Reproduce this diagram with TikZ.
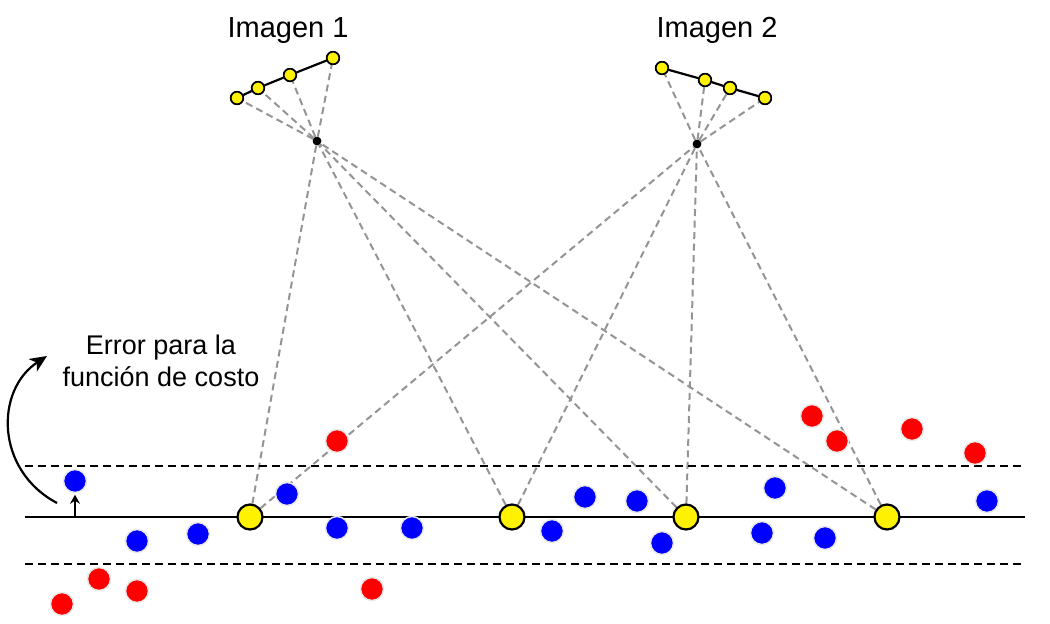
\documentclass[tikz,border=0pt]{standalone}
\usepackage{fontspec}
\setmainfont{Liberation Sans}
\usetikzlibrary{arrows.meta}
\begin{document}
\begin{tikzpicture}[x=1pt,y=-1pt,
  bdot/.style={circle, fill=blue, draw=black!9, line width=1.5pt, minimum size=23pt, inner sep=0pt},
  rdot/.style={circle, fill=red, draw=black!9, line width=1.5pt, minimum size=23pt, inner sep=0pt},
  gdot/.style={circle, fill=yellow, draw=black, line width=2.2pt, minimum size=25pt, inner sep=0pt},
  cdot/.style={circle, fill=yellow, draw=black, line width=1.6pt, minimum size=12.5pt, inner sep=0pt},
  ctr/.style={circle, fill=black, minimum size=8.5pt, inner sep=0pt},
  ray/.style={draw=black!42, line width=2pt, dash pattern=on 7pt off 4.5pt},
  guide/.style={draw=black, line width=2.4pt, dash pattern=on 8pt off 5pt},
  lbl/.style={font=\fontsize{27}{32}\selectfont, inner sep=0pt, anchor=base, align=center},
  ttl/.style={font=\fontsize{29}{34}\selectfont, inner sep=0pt, anchor=base}
]
\useasboundingbox (0,0) rectangle (1050,624);

% cameras
\node[cdot] (p11) at (237,98) {};
\node[cdot] (p12) at (258,88) {};
\node[cdot] (p13) at (290,75) {};
\node[cdot] (p14) at (333,58) {};
\node[ctr] (c1) at (317,141) {};
\node[cdot] (p21) at (662,68) {};
\node[cdot] (p22) at (705,80) {};
\node[cdot] (p23) at (730,88) {};
\node[cdot] (p24) at (765,98) {};
\node[ctr] (c2) at (697,144) {};

% ground points (positions)
\coordinate (g1c) at (250,517);
\coordinate (g2c) at (512,517);
\coordinate (g3c) at (686,517);
\coordinate (g4c) at (887,517);
\node[gdot, fill=none, draw=none] (g1) at (g1c) {};
\node[gdot, fill=none, draw=none] (g2) at (g2c) {};
\node[gdot, fill=none, draw=none] (g3) at (g3c) {};
\node[gdot, fill=none, draw=none] (g4) at (g4c) {};

% rays
\draw[ray] (g1) -- (c1) -- (p14);
\draw[ray] (g2) -- (c1) -- (p13);
\draw[ray] (g3) -- (c1) -- (p12);
\draw[ray] (g4) -- (c1) -- (p11);
\draw[ray] (g1) -- (c2) -- (p24);
\draw[ray] (g2) -- (c2) -- (p23);
\draw[ray] (g3) -- (c2) -- (p22);
\draw[ray] (g4) -- (c2) -- (p21);

% camera image lines
\draw[line width=2.2pt] (p11) -- (p12) -- (p13) -- (p14);
\draw[line width=2.2pt] (p21) -- (p22) -- (p23) -- (p24);
\node[cdot] at (p11) {};
\node[cdot] at (p12) {};
\node[cdot] at (p13) {};
\node[cdot] at (p14) {};
\node[cdot] at (p21) {};
\node[cdot] at (p22) {};
\node[cdot] at (p23) {};
\node[cdot] at (p24) {};
\node[ctr] at (c1) {};
\node[ctr] at (c2) {};

% labels
\node[ttl] (t1) at (288,37) {Imagen 1};
\node[ttl] (t2) at (717,37) {Imagen 2};
\node[lbl] (err) at (161,386) {Error para la\\función de costo};

% reference lines
\coordinate (la) at (25,466); \coordinate (lb) at (1025,466);
\coordinate (ma) at (25,517); \coordinate (mb) at (1025,517);
\coordinate (na) at (25,564); \coordinate (nb) at (1025,564);
\draw[guide] (la) -- (lb);
\draw[guide] (na) -- (nb);
\draw[line width=2.5pt] (ma) -- (mb);

% blue points
\node[bdot] (b1) at (75,481) {};
\node[bdot] (b2) at (137,541) {};
\node[bdot] (b3) at (198,534) {};
\node[bdot] (b4) at (287,494) {};
\node[bdot] (b5) at (337,528) {};
\node[bdot] (b6) at (412,528) {};
\node[bdot] (b7) at (552,531) {};
\node[bdot] (b8) at (585,497) {};
\node[bdot] (b9) at (637,501) {};
\node[bdot] (b10) at (662,543) {};
\node[bdot] (b11) at (762,533) {};
\node[bdot] (b12) at (775,488) {};
\node[bdot] (b13) at (825,538) {};
\node[bdot] (b14) at (987,501) {};

% red points
\node[rdot] (r1) at (62,604) {};
\node[rdot] (r2) at (99,579) {};
\node[rdot] (r3) at (137,591) {};
\node[rdot] (r4) at (372,589) {};
\node[rdot] (r5) at (337,441) {};
\node[rdot] (r6) at (812,416) {};
\node[rdot] (r7) at (837,441) {};
\node[rdot] (r8) at (912,429) {};
\node[rdot] (r9) at (975,453) {};

% ground yellow points
\node[gdot] at (g1c) {};
\node[gdot] at (g2c) {};
\node[gdot] at (g3c) {};
\node[gdot] at (g4c) {};

% error arrows
\coordinate (e0) at (75,517);
\draw[line width=2pt, -{Stealth[length=9pt,width=10pt]}, shorten >=1.5pt] (e0) -- (b1);
\coordinate (ca) at (57,503);
\coordinate (cb) at (47,356);
\draw[line width=2.2pt, -{Stealth[length=17pt,width=15pt,inset=5pt]}] (ca) .. controls (-5,470) and (-5,390) .. (cb);
\end{tikzpicture}
\end{document}
